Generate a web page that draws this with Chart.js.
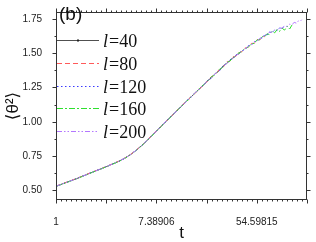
<!DOCTYPE html>
<html>
<head>
<meta charset="utf-8">
<script src="https://cdn.jsdelivr.net/npm/chart.js@4.4.0/dist/chart.umd.min.js"></script>
<style>
  html, body { margin: 0; padding: 0; background: #fff; }
  canvas { display: block; }
</style>
</head>
<body>
<canvas id="chart" width="316" height="242"></canvas>
<script>
// time points (shared by all series)
const tValues = [
  1, 1.5, 2, 2.5, 3, 3.5, 4, 4.5, 5, 5.5,
  6, 7, 8, 9, 10, 11, 12, 13, 14, 15,
  16, 17, 18, 19, 20, 22, 24, 26, 28, 30,
  32, 34, 36, 38, 40, 43, 46, 49, 52, 55,
  58, 61, 64, 67, 70, 74, 78, 82, 86, 90,
  95, 100, 105, 110, 115, 120, 125, 130, 135
];

// <theta^2> for each system size l
const theta40 = [
  0.530, 0.585, 0.628, 0.660, 0.688, 0.712, 0.738, 0.766, 0.796, 0.826,
  0.856, 0.912, 0.962, 1.004, 1.043, 1.076, 1.109, 1.135, 1.165, 1.186,
  1.213, 1.230, 1.255, 1.268, 1.293, 1.318, 1.354, 1.374, 1.409, 1.424,
  1.451, 1.462, 1.486, 1.493, 1.515
];
const theta80 = [
  0.531, 0.586, 0.629, 0.661, 0.689, 0.713, 0.739, 0.767, 0.797, 0.827,
  0.857, 0.913, 0.963, 1.007, 1.040, 1.080, 1.105, 1.141, 1.160, 1.192,
  1.207, 1.237, 1.248, 1.276, 1.286, 1.328, 1.345, 1.385, 1.399, 1.436,
  1.441, 1.473, 1.477, 1.504, 1.506, 1.537, 1.542, 1.571, 1.572, 1.599,
  1.597, 1.623, 1.620
];
const theta120 = [
  0.530, 0.585, 0.628, 0.660, 0.688, 0.712, 0.738, 0.766, 0.796, 0.826,
  0.856, 0.912, 0.962, 1.005, 1.044, 1.075, 1.110, 1.134, 1.166, 1.185,
  1.214, 1.229, 1.256, 1.267, 1.294, 1.317, 1.355, 1.372, 1.410, 1.422,
  1.453, 1.460, 1.488, 1.491, 1.517, 1.524, 1.555, 1.558, 1.585, 1.586,
  1.611, 1.610, 1.635, 1.632, 1.654, 1.650, 1.670, 1.665, 1.684, 1.679,
  1.697
];
const theta160 = [
  0.529, 0.584, 0.627, 0.659, 0.687, 0.711, 0.737, 0.765, 0.795, 0.825,
  0.855, 0.911, 0.961, 1.003, 1.041, 1.078, 1.106, 1.139, 1.161, 1.190,
  1.209, 1.235, 1.250, 1.274, 1.287, 1.326, 1.346, 1.383, 1.400, 1.433,
  1.443, 1.470, 1.478, 1.502, 1.507, 1.535, 1.543, 1.569, 1.571, 1.597,
  1.598, 1.621, 1.620, 1.642, 1.636, 1.660, 1.648, 1.674, 1.659, 1.683,
  1.668, 1.697, 1.676, 1.705
];
const theta200 = [
  0.530, 0.585, 0.628, 0.660, 0.688, 0.712, 0.738, 0.766, 0.796, 0.826,
  0.856, 0.912, 0.962, 1.006, 1.042, 1.077, 1.108, 1.138, 1.162, 1.189,
  1.212, 1.231, 1.254, 1.269, 1.292, 1.320, 1.352, 1.376, 1.407, 1.426,
  1.449, 1.464, 1.484, 1.495, 1.513, 1.528, 1.551, 1.561, 1.582, 1.589,
  1.609, 1.613, 1.633, 1.635, 1.652, 1.653, 1.669, 1.668, 1.683, 1.682,
  1.697, 1.695, 1.711, 1.708, 1.724, 1.719, 1.735, 1.733, 1.748
];

const sizeLabels = ['40', '80', '120', '160', '200'];
const xTickValues = [1, 7.38906, 54.59815];
const xTickLabels = ['1', '7.38906', '54.59815'];
const yTickValues = [0.50, 0.75, 1.00, 1.25, 1.50, 1.75];
const yTickLabels = ['0.50', '0.75', '1.00', '1.25', '1.50', '1.75'];

const seriesList = [theta40, theta80, theta120, theta160, theta200];
const colors = ['#505050', '#ff5a5a', '#3a3aff', '#2ee02e', '#b377ff'];
const dashes = [[], [5, 3], [1.5, 2.5], [6, 2, 2, 2], [5, 2, 1.5, 2, 1.5, 2]];

function toPoints(arr) {
  return arr.map((v, i) => ({ x: tValues[i], y: v }));
}

// frame, ticks on all four sides, panel tag and legend
const frameAndLegend = {
  id: 'frameAndLegend',
  afterDraw(chart) {
    const { ctx, chartArea: a, scales: { x, y } } = chart;
    const L = a.left + 0.5, R = Math.round(a.right) - 0.5, T = a.top + 0.5, B = Math.round(a.bottom) - 0.5;
    ctx.save();
    ctx.strokeStyle = '#333';
    ctx.lineWidth = 1;
    ctx.strokeRect(L, T, R - L, B - T);

    ctx.beginPath();
    for (let k = 0; k <= 50; k++) {
      const px = Math.round(x.getPixelForValue(Math.exp(k / 10))) + 0.5;
      const len = k % 10 === 0 ? 4 : 2;
      ctx.moveTo(px, B); ctx.lineTo(px, B + len);
      ctx.moveTo(px, T); ctx.lineTo(px, T - len);
    }
    for (let v = 0.5; v <= 1.8; v += 0.125) {
      const py = Math.round(y.getPixelForValue(v)) + 0.5;
      const major = Math.abs((v / 0.25) - Math.round(v / 0.25)) < 1e-6;
      const len = major ? 4 : 2;
      ctx.moveTo(L, py); ctx.lineTo(L - len, py);
      ctx.moveTo(R, py); ctx.lineTo(R + len, py);
    }
    ctx.stroke();

    ctx.fillStyle = '#111';
    ctx.font = '19px "Liberation Sans", Arial, sans-serif';
    ctx.textBaseline = 'alphabetic';
    ctx.fillText('(b)', 59, 20);

    chart.data.datasets.forEach((ds, i) => {
      const ly = Math.round(40 + i * 22.75) + 0.5;
      ctx.save();
      ctx.strokeStyle = ds.borderColor;
      ctx.setLineDash(ds.borderDash);
      ctx.beginPath();
      ctx.moveTo(57, ly); ctx.lineTo(99, ly);
      ctx.stroke();
      ctx.restore();
      if (i === 0) {
        ctx.fillStyle = '#222';
        ctx.fillRect(77, ly - 1, 2, 2);
      }
      ctx.fillStyle = '#111';
      ctx.font = 'italic 18px "Liberation Serif", "Times New Roman", serif';
      ctx.fillText('l', 103, ly + 6.5);
      const w = ctx.measureText('l').width;
      ctx.font = '18px "Liberation Serif", "Times New Roman", serif';
      ctx.fillText('=' + ds.label, 103 + w + 1, ly + 6.5);
    });
    ctx.restore();
  }
};

new Chart(document.getElementById('chart'), {
  type: 'line',
  data: {
    datasets: seriesList.map((arr, i) => ({
      label: sizeLabels[i],
      data: toPoints(arr),
      borderColor: colors[i],
      borderDash: dashes[i],
      borderWidth: 1,
      pointRadius: 0,
      tension: 0,
      fill: false,
      order: seriesList.length - i
    }))
  },
  options: {
    responsive: false,
    animation: false,
    devicePixelRatio: 1,
    layout: { padding: { top: 5, right: 9, bottom: 0, left: 0 } },
    plugins: { legend: { display: false }, tooltip: { enabled: false } },
    scales: {
      x: {
        type: 'logarithmic',
        min: 1,
        max: Math.exp(5),
        afterBuildTicks: (scale) => { scale.ticks = xTickValues.map(v => ({ value: v })); },
        afterFit: (scale) => { scale.height = 42; },
        grid: { display: false },
        border: { display: false },
        ticks: {
          autoSkip: false,
          maxRotation: 0,
          padding: 8,
          color: '#222',
          font: { family: '"Liberation Sans", Arial, sans-serif', size: 10 },
          callback: (value, index) => xTickLabels[index]
        },
        title: {
          display: true,
          text: 't',
          color: '#111',
          padding: { top: 0, bottom: 0 },
          font: { family: '"Liberation Sans", Arial, sans-serif', size: 17, lineHeight: 1 }
        }
      },
      y: {
        type: 'linear',
        min: 0.43,
        max: 1.80,
        afterBuildTicks: (scale) => { scale.ticks = yTickValues.map(v => ({ value: v })); },
        afterFit: (scale) => { scale.width = 56; },
        grid: { display: false },
        border: { display: false },
        ticks: {
          autoSkip: false,
          padding: 6,
          color: '#222',
          font: { family: '"Liberation Sans", Arial, sans-serif', size: 10 },
          callback: (value, index) => yTickLabels[index]
        },
        title: {
          display: true,
          text: '⟨θ²⟩',
          color: '#111',
          padding: { top: 5, bottom: 0 },
          font: { family: '"Liberation Sans", "DejaVu Sans", sans-serif', size: 17, lineHeight: 1 }
        }
      }
    }
  },
  plugins: [frameAndLegend]
});
</script>
</body>
</html>
